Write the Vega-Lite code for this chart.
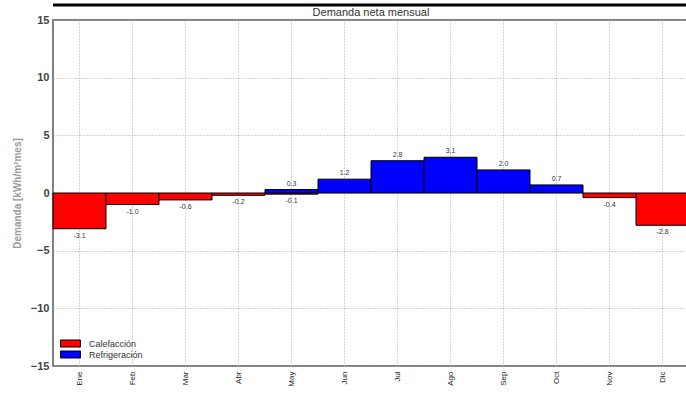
{
  "$schema": "https://vega.github.io/schema/vega-lite/v6.json",
  "width": 636,
  "height": 346,
  "autosize": {"type": "none"},
  "padding": {"left": 53, "top": 20, "right": 0, "bottom": 28},
  "title": {"text": "Demanda neta mensual", "fontSize": 11, "font": "Liberation Sans", "fontWeight": "normal", "color": "#333333", "offset": -14},
  "config": {
    "font": "Liberation Sans",
    "view": {"stroke": "#808080", "strokeWidth": 2},
    "axis": {"domain": false, "ticks": false, "grid": true, "gridDash": [1, 2], "gridColor": "#a8a8a8", "gridWidth": 1}
  },
  "datasets": {
    "demanda": [
      {"mes": "Ene", "tipo": "Calefacción", "valor": -3.1},
      {"mes": "Feb", "tipo": "Calefacción", "valor": -1.0},
      {"mes": "Mar", "tipo": "Calefacción", "valor": -0.6},
      {"mes": "Abr", "tipo": "Calefacción", "valor": -0.2},
      {"mes": "May", "tipo": "Calefacción", "valor": -0.1},
      {"mes": "Nov", "tipo": "Calefacción", "valor": -0.4},
      {"mes": "Dic", "tipo": "Calefacción", "valor": -2.8},
      {"mes": "May", "tipo": "Refrigeración", "valor": 0.3},
      {"mes": "Jun", "tipo": "Refrigeración", "valor": 1.2},
      {"mes": "Jul", "tipo": "Refrigeración", "valor": 2.8},
      {"mes": "Ago", "tipo": "Refrigeración", "valor": 3.1},
      {"mes": "Sep", "tipo": "Refrigeración", "valor": 2.0},
      {"mes": "Oct", "tipo": "Refrigeración", "valor": 0.7}
    ],
    "marco": [{"borde": 16.3}]
  },
  "layer": [
    {
      "data": {"name": "demanda"},
      "mark": {"type": "bar", "stroke": "#000000", "strokeWidth": 1},
      "encoding": {
        "x": {
          "field": "mes", "type": "ordinal",
          "sort": ["Ene", "Feb", "Mar", "Abr", "May", "Jun", "Jul", "Ago", "Sep", "Oct", "Nov", "Dic"],
          "scale": {"domain": ["Ene", "Feb", "Mar", "Abr", "May", "Jun", "Jul", "Ago", "Sep", "Oct", "Nov", "Dic"], "paddingInner": 0, "paddingOuter": 0},
          "axis": {"title": null, "labelAngle": -90, "labelFontSize": 8, "labelColor": "#222222", "labelPadding": 5}
        },
        "y": {
          "field": "valor", "type": "quantitative",
          "scale": {"domain": [-15, 15], "nice": false},
          "axis": {"values": [-15, -10, -5, 0, 5, 10, 15], "title": "Demanda [kWh/m²mes]", "titleColor": "#9a9a9a", "titleFontSize": 10, "titleFontWeight": "bold", "titlePadding": 8, "labelFontSize": 11, "labelFontWeight": "bold", "labelColor": "#444444", "labelPadding": 4}
        },
        "color": {
          "field": "tipo", "type": "nominal",
          "scale": {"domain": ["Calefacción", "Refrigeración"], "range": ["#ff0000", "#0000ff"]},
          "legend": {"title": null, "orient": "bottom-left", "offset": 6, "padding": 0, "rowPadding": 0, "labelFontSize": 9, "labelColor": "#333333", "labelOffset": 19, "symbolType": "M-0.8,-0.7H3.2V0.7H-0.8Z", "symbolSize": 100, "symbolStrokeColor": "#000000", "symbolStrokeWidth": 1}
        }
      }
    },
    {
      "data": {"name": "demanda"},
      "transform": [
        {"filter": "datum.valor < 0"},
        {"calculate": "replace(format(datum.valor, '.1f'), '\u2212', '-')", "as": "etiqueta"}
      ],
      "mark": {"type": "text", "baseline": "top", "dy": 3, "fontSize": 7, "color": "#333333"},
      "encoding": {
        "x": {"field": "mes", "type": "ordinal"},
        "y": {"field": "valor", "type": "quantitative"},
        "text": {"field": "etiqueta", "type": "nominal"}
      }
    },
    {
      "data": {"name": "demanda"},
      "transform": [
        {"filter": "datum.valor > 0"},
        {"calculate": "format(datum.valor, '.1f')", "as": "etiqueta"}
      ],
      "mark": {"type": "text", "baseline": "bottom", "dy": -3, "fontSize": 7, "color": "#333333"},
      "encoding": {
        "x": {"field": "mes", "type": "ordinal"},
        "y": {"field": "valor", "type": "quantitative"},
        "text": {"field": "etiqueta", "type": "nominal"}
      }
    },
    {
      "data": {"name": "marco"},
      "mark": {"type": "rule", "color": "#000000", "strokeWidth": 3},
      "encoding": {"y": {"field": "borde", "type": "quantitative"}}
    }
  ]
}
